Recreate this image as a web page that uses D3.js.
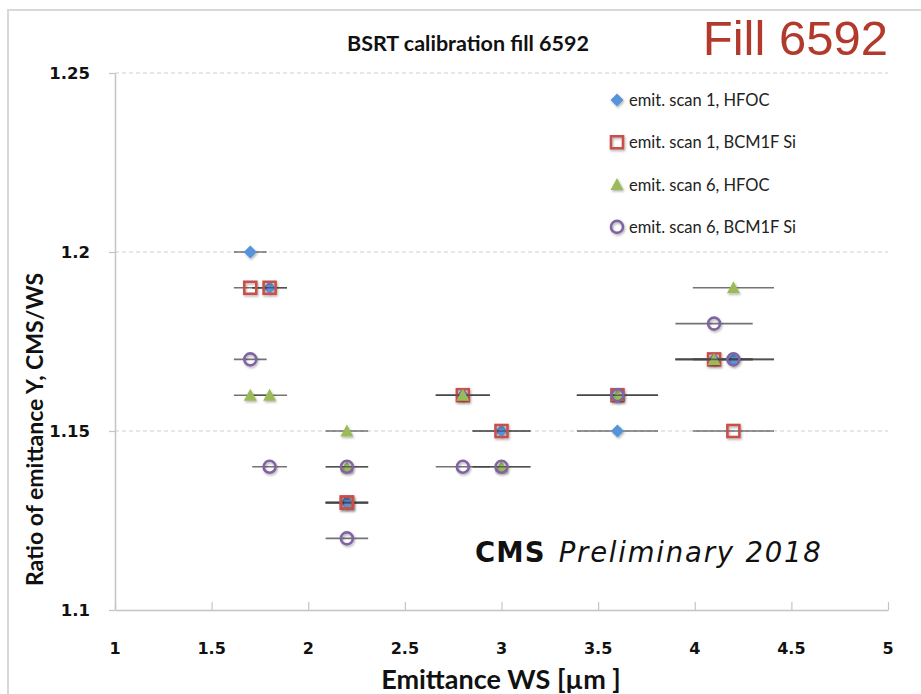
<!DOCTYPE html>
<html>
<head>
<meta charset="utf-8">
<script src="https://cdn.jsdelivr.net/npm/d3@7"></script>
<style>
  html, body { margin: 0; padding: 0; background: #fff; }
  svg { display: block; }
</style>
</head>
<body>
<svg id="chart" width="921" height="694"></svg>
<script>
// Emittance of each bunch (WS, µm) and its horizontal uncertainty
const bunchEmittance = [1.7, 1.8, 2.2, 2.2, 2.8, 3.0, 3.6, 4.1, 4.2];
const emittanceErr   = [0.085, 0.09, 0.11, 0.11, 0.14, 0.15, 0.21, 0.20, 0.21];

// Ratio CMS/WS per bunch for each scan / luminometer
const scan1HFOC  = [1.20, 1.19, 1.13, 1.13, 1.16, 1.15, 1.15, 1.17, 1.17];
const scan1BCM1F = [1.19, 1.19, 1.13, 1.13, 1.16, 1.15, 1.16, 1.17, 1.15];
const scan6HFOC  = [1.16, 1.16, 1.15, 1.14, 1.16, 1.14, 1.16, 1.17, 1.19];
const scan6BCM1F = [1.17, 1.14, 1.14, 1.12, 1.14, 1.14, 1.16, 1.18, 1.17];

const seriesNames = ["emit. scan 1, HFOC", "emit. scan 1, BCM1F Si",
                     "emit. scan 6, HFOC", "emit. scan 6, BCM1F Si"];
const seriesValues = [scan1HFOC, scan1BCM1F, scan6HFOC, scan6BCM1F];
const seriesShapes = ["diamond", "square", "triangle", "circle"];
const seriesColors = ["#5593db", "#c9504b", "#9bbb59", "#8064a2"];

const xTicks = [1, 1.5, 2, 2.5, 3, 3.5, 4, 4.5, 5];
const yTicks = [1.1, 1.15, 1.2, 1.25];
const yGrid  = [1.15, 1.2, 1.25];

const svg = d3.select("#chart");

const defs = svg.append("defs");
const shadow = defs.append("filter").attr("id", "mshadow")
  .attr("x", "-50%").attr("y", "-50%").attr("width", "200%").attr("height", "200%");
shadow.append("feDropShadow").attr("dx", 1).attr("dy", 1.5)
  .attr("stdDeviation", 1).attr("flood-color", "#000").attr("flood-opacity", 0.3);

// outer chart frame
svg.append("rect").attr("x", 8).attr("y", 10).attr("width", 940).attr("height", 720)
  .attr("fill", "none").attr("stroke", "#d8d8d8").attr("stroke-width", 2);

const x = d3.scaleLinear().domain([1, 5]).range([115, 888]);
const y = d3.scaleLinear().domain([1.1, 1.25]).range([610, 73]);

// dashed horizontal gridlines
svg.append("g").selectAll("line").data(yGrid).join("line")
  .attr("x1", x(1)).attr("x2", x(5))
  .attr("y1", d => y(d)).attr("y2", d => y(d))
  .attr("stroke", "#cfcfcf").attr("stroke-width", 1.2).attr("stroke-dasharray", "4,3");

// x axis with ticks pointing up
const xAxis = svg.append("g").attr("transform", `translate(0,${y(1.1)})`)
  .call(d3.axisTop(x).tickValues(xTicks).tickSize(8).tickSizeOuter(0).tickFormat(""));
xAxis.select(".domain").attr("stroke", "#c4c4c4").attr("stroke-width", 1.5);
xAxis.selectAll(".tick line").attr("stroke", "#c4c4c4").attr("stroke-width", 1.2);

svg.append("g").selectAll("text").data(xTicks).join("text")
  .attr("x", d => x(d)).attr("y", 654)
  .attr("text-anchor", "middle")
  .attr("font-family", "DejaVu Sans").attr("font-weight", "bold").attr("font-size", 16)
  .attr("fill", "#111")
  .text(d => d3.format("")(d));

// y axis with short outward ticks
const yAxis = svg.append("g").attr("transform", `translate(${x(1)},0)`)
  .call(d3.axisLeft(y).tickValues(yTicks).tickSize(6).tickSizeOuter(0).tickFormat(""));
yAxis.select(".domain").attr("stroke", "#c4c4c4").attr("stroke-width", 1.5);
yAxis.selectAll(".tick line").attr("stroke", "#c4c4c4").attr("stroke-width", 1.2);

svg.append("g").selectAll("text").data(yTicks).join("text")
  .attr("x", 90).attr("y", d => y(d) + 6)
  .attr("text-anchor", "end")
  .attr("font-family", "DejaVu Sans").attr("font-weight", "bold").attr("font-size", 16.5)
  .attr("fill", "#111")
  .text(d => d3.format("")(d));

// titles
svg.append("text").attr("x", 468).attr("y", 51).attr("text-anchor", "middle")
  .attr("font-family", "Lato").attr("font-weight", "bold").attr("font-size", 21.5)
  .attr("fill", "#111").text("BSRT calibration fill 6592");

svg.append("text").attr("x", 888).attr("y", 55).attr("text-anchor", "end")
  .attr("font-family", "Liberation Sans").attr("font-size", 49)
  .attr("fill", "#b23a2c").text("Fill 6592");

svg.append("text").attr("x", 501).attr("y", 689).attr("text-anchor", "middle")
  .attr("font-family", "Lato").attr("font-weight", "bold").attr("font-size", 27)
  .attr("fill", "#111").text("Emittance WS [µm ]");

svg.append("text")
  .attr("transform", "translate(43,586) rotate(-90)")
  .attr("text-anchor", "start")
  .attr("font-family", "Lato").attr("font-weight", "bold").attr("font-size", 23)
  .attr("fill", "#111").text("Ratio of emittance Y, CMS/WS");

// CMS Preliminary label
const cms = svg.append("text").attr("x", 475).attr("y", 562)
  .attr("font-family", "DejaVu Sans").attr("font-size", 27.5).attr("fill", "#111");
cms.append("tspan").attr("font-weight", "bold").attr("letter-spacing", 1.1).text("CMS");
cms.append("tspan").attr("dx", 13).attr("font-style", "italic")
  .attr("letter-spacing", 1.8).text("Preliminary 2018");

// marker drawing
function drawMarker(g, shape, color) {
  if (shape === "diamond") {
    g.append("path").attr("d", "M0,-6.5L6.5,0L0,6.5L-6.5,0Z").attr("fill", color);
  } else if (shape === "square") {
    g.append("rect").attr("x", -6).attr("y", -6).attr("width", 12).attr("height", 12)
      .attr("fill", "none").attr("stroke", color).attr("stroke-width", 2.6);
  } else if (shape === "triangle") {
    g.append("path").attr("d", "M0,-6.5L6.5,5.5L-6.5,5.5Z").attr("fill", color);
  } else {
    g.append("circle").attr("r", 6).attr("fill", "none")
      .attr("stroke", color).attr("stroke-width", 2.6);
  }
}

const plot = svg.append("g");
seriesValues.forEach((vals, si) => {
  const pts = vals.map((v, i) => ({ x: bunchEmittance[i], y: v, e: emittanceErr[i] }));
  const sg = plot.append("g");
  // horizontal error bars
  sg.selectAll("line").data(pts).join("line")
    .attr("x1", d => x(d.x - d.e)).attr("x2", d => x(d.x + d.e))
    .attr("y1", d => y(d.y)).attr("y2", d => y(d.y))
    .attr("stroke", "rgba(70,70,70,0.75)").attr("stroke-width", 1.6);
  sg.selectAll("g.m").data(pts).join("g").attr("class", "m")
    .attr("transform", d => `translate(${x(d.x)},${y(d.y)})`)
    .attr("filter", "url(#mshadow)")
    .each(function() { drawMarker(d3.select(this), seriesShapes[si], seriesColors[si]); });
});

// legend
const legend = svg.append("g");
seriesNames.forEach((name, i) => {
  const ly = 100 + i * 42.3;
  const mg = legend.append("g").attr("transform", `translate(617,${ly})`)
    .attr("filter", "url(#mshadow)");
  drawMarker(mg, seriesShapes[i], seriesColors[i]);
  legend.append("text").attr("x", 629).attr("y", ly + 6)
    .attr("font-family", "Lato").attr("font-size", 16.5).attr("fill", "#222")
    .text(name);
});
</script>
</body>
</html>
